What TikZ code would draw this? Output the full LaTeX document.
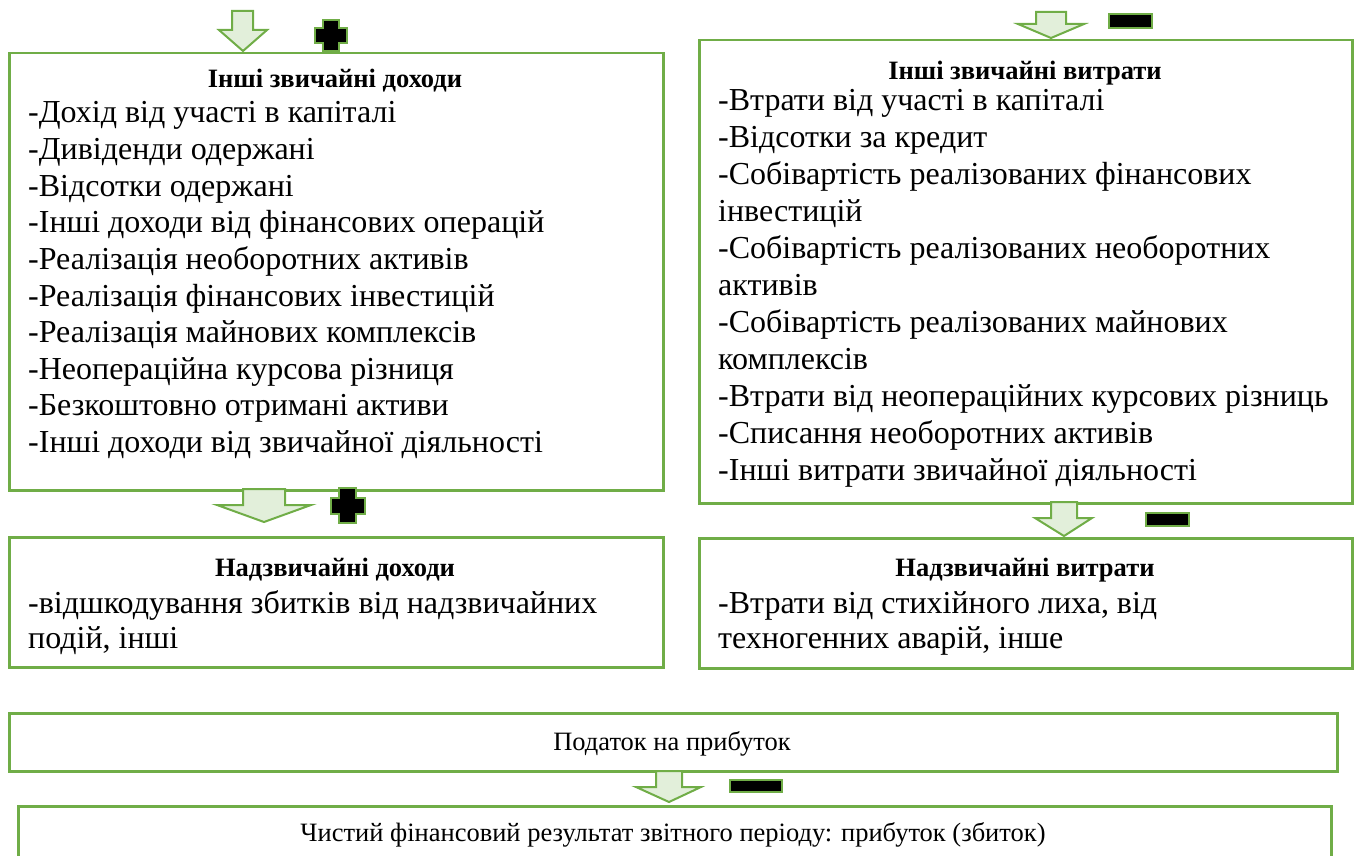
\documentclass[tikz,border=0pt]{standalone}
\usepackage{fontspec}
\setmainfont{Liberation Serif}
\definecolor{gborder}{HTML}{70AD47}
\definecolor{gfill}{HTML}{E2EFDA}
\tikzset{
  box/.style={draw=gborder, line width=2.5pt, inner sep=0pt, anchor=north west},
  barrow/.style={draw=gborder, fill=gfill, line width=2pt, line join=miter},
  sign/.style={draw=gborder, fill=black, line width=2pt, line join=miter},
  ttl/.style={font=\fontsize{26.5}{30}\selectfont\bfseries, anchor=base, inner sep=0pt},
  item/.style={font=\fontsize{32}{37}\selectfont, anchor=base west, inner sep=0pt},
  plaintxt/.style={font=\fontsize{26.5}{30}\selectfont, anchor=base, inner sep=0pt}
}
\begin{document}
\begin{tikzpicture}[x=1pt,y=-1pt]
\useasboundingbox (0,0) rectangle (1354,856);
% boxes
\node[box, minimum width=654pt, minimum height=437pt] (b1) at (8,52) {};
\node[box, minimum width=653pt, minimum height=463pt] (b2) at (698,39) {};
\node[box, minimum width=654pt, minimum height=130pt] (b3) at (8,536) {};
\node[box, minimum width=653pt, minimum height=130pt] (b4) at (698,537) {};
\node[box, minimum width=1328pt, minimum height=58pt] (b5) at (8,712) {};
\node[box, minimum width=1313pt, minimum height=70pt] (b6) at (17,805) {};
% titles
\node[ttl] (t1) at (335,88) {Інші звичайні доходи};
\node[ttl] (t2) at (1025,80) {Інші звичайні витрати};
\node[ttl] (t3) at (335,576) {Надзвичайні доходи};
\node[ttl] (t4) at (1025,576) {Надзвичайні витрати};
% lists
\foreach \s [count=\i from 0] in {{-Дохід від участі в капіталі},{-Дивіденди одержані},{-Відсотки одержані},{-Інші доходи від фінансових операцій},{-Реалізація необоротних активів},{-Реалізація фінансових інвестицій},{-Реалізація майнових комплексів},{-Неопераційна курсова різниця},{-Безкоштовно отримані активи},{-Інші доходи від звичайної діяльності}}
  \node[item] (la\i) at (28,{123+36.6*\i}) {\s};
\foreach \s [count=\i from 0] in {{-Втрати від участі в капіталі},{-Відсотки за кредит},{-Собівартість реалізованих фінансових},{інвестицій},{-Собівартість реалізованих необоротних},{активів},{-Собівартість реалізованих майнових},{комплексів},{-Втрати від неопераційних курсових різниць},{-Списання необоротних активів},{-Інші витрати звичайної діяльності}}
  \node[item] (lb\i) at (718,{111+36.9*\i}) {\s};
\node[item] (lc0) at (28,613) {-відшкодування збитків від надзвичайних};
\node[item] (lc1) at (28,648) {подій, інші};
\node[item] (ld0) at (718,613) {-Втрати від стихійного лиха, від};
\node[item] (ld1) at (718,648) {техногенних аварій, інше};
\node[plaintxt] (p5) at (672,750) {Податок на прибуток};
\node[plaintxt] (p6) at (673,841) {Чистий фінансовий результат звітного періоду: прибуток (збиток)};
% block arrows
\draw[barrow] (232,11) -- (253,11) -- (253,30) -- (267,30) -- (243,51) -- (219,30) -- (232,30) -- cycle;
\draw[barrow] (1036,12) -- (1066,12) -- (1066,24) -- (1084,24) -- (1051,38) -- (1018,24) -- (1036,24) -- cycle;
\draw[barrow] (243,489) -- (285,489) -- (285,505) -- (311,505) -- (264,522) -- (217,505) -- (243,505) -- cycle;
\draw[barrow] (1051,502) -- (1077,502) -- (1077,518) -- (1092,518) -- (1064,536) -- (1035,518) -- (1051,518) -- cycle;
\draw[barrow] (656,771) -- (682,771) -- (682,787) -- (701,787) -- (669,802) -- (636,787) -- (656,787) -- cycle;
% signs
\draw[sign] (322.5,20) -- (338.5,20) -- (338.5,28) -- (347,28) -- (347,43.5) -- (338.5,43.5) -- (338.5,51) -- (322.5,51) -- (322.5,43.5) -- (315,43.5) -- (315,28) -- (322.5,28) -- cycle;
\draw[sign] (339,488) -- (356,488) -- (356,498) -- (365,498) -- (365,514) -- (356,514) -- (356,523) -- (339,523) -- (339,514) -- (331,514) -- (331,498) -- (339,498) -- cycle;
\draw[sign] (1109,14) rectangle (1152,28);
\draw[sign] (1146,513) rectangle (1189,526);
\draw[sign] (730,780) rectangle (782,792);
\end{tikzpicture}
\end{document}
